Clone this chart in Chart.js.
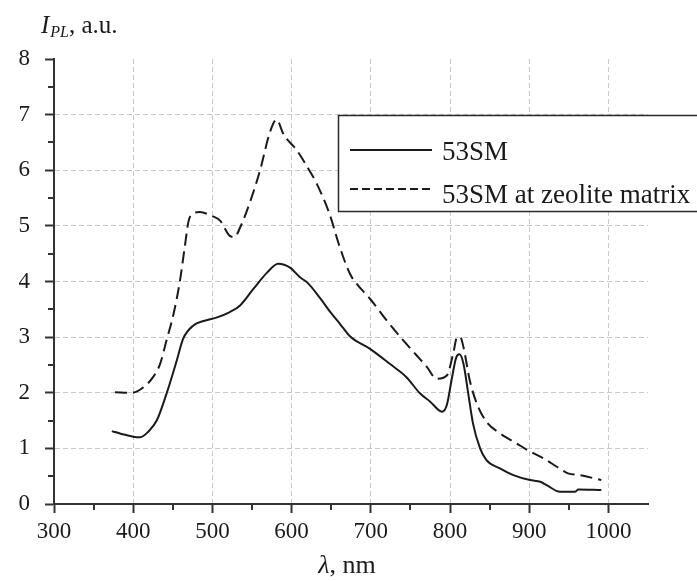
<!DOCTYPE html>
<html><head><meta charset="utf-8">
<style>html,body{margin:0;padding:0;background:#fff;overflow:hidden}
#wrap{position:relative;width:697px;height:581px}</style>
<script src="https://cdn.jsdelivr.net/npm/chart.js@4.4.1/dist/chart.umd.min.js"></script>
</head><body><div id="wrap"><canvas id="c" width="697" height="581"></canvas></div>
<script>
const seriesNames = ['53SM', '53SM at zeolite matrix'];
const xTickValues = [300, 400, 500, 600, 700, 800, 900, 1000];
const xMinorTicks = [350, 450, 550, 650, 750, 850, 950];
const yTickValues = [0, 1, 2, 3, 4, 5, 6, 7, 8];
const yMinorTicks = [0.5, 1.5, 2.5, 3.5, 4.5, 5.5, 6.5, 7.5];

const solidWavelength = [373, 385, 400, 409, 419, 430, 442, 455, 463, 476, 489, 505, 522, 535, 552, 569, 583, 598, 611, 620, 636, 650, 661, 674, 699, 724, 745, 762, 775, 790, 796, 802, 808, 812, 817, 823, 829, 838, 846, 863, 880, 901, 914, 922, 939, 958, 962, 991];
const solidIntensity = [1.31, 1.26, 1.21, 1.20, 1.30, 1.51, 1.98, 2.58, 2.97, 3.21, 3.29, 3.35, 3.45, 3.57, 3.87, 4.16, 4.32, 4.25, 4.07, 3.98, 3.70, 3.43, 3.24, 3.01, 2.79, 2.52, 2.28, 1.99, 1.84, 1.66, 1.78, 2.23, 2.64, 2.69, 2.52, 1.99, 1.45, 1.00, 0.79, 0.64, 0.52, 0.43, 0.40, 0.34, 0.22, 0.22, 0.26, 0.25];

const zeoliteWavelength = [377, 398, 413, 425, 434, 442, 451, 459, 465, 470, 476, 484, 499, 510, 522, 528, 535, 548, 560, 573, 581, 590, 606, 619, 632, 648, 661, 674, 682, 699, 720, 741, 758, 771, 783, 796, 804, 809, 813, 817, 825, 834, 846, 863, 884, 899, 918, 935, 949, 964, 991];
const zeoliteIntensity = [2.01, 2.00, 2.10, 2.28, 2.52, 2.94, 3.42, 4.01, 4.61, 5.09, 5.22, 5.25, 5.18, 5.09, 4.82, 4.80, 4.97, 5.45, 5.99, 6.70, 6.91, 6.64, 6.37, 6.08, 5.75, 5.21, 4.61, 4.13, 3.96, 3.69, 3.30, 2.94, 2.67, 2.46, 2.25, 2.31, 2.70, 3.00, 3.00, 2.82, 2.22, 1.80, 1.48, 1.27, 1.09, 0.96, 0.82, 0.67, 0.55, 0.52, 0.43];

const toPoints = (xs, ys) => xs.map((v, i) => ({x: v, y: ys[i]}));
const SERIF = '"Liberation Serif", "DejaVu Serif", serif';
const INK = '#1a1a1a';
const AXIS = '#333333';
const GRID = '#c8c8c8';

const decor = {
  id: 'decor',
  afterDraw(chart) {
    const {ctx, scales: {x, y}} = chart;
    ctx.save();
    // minor ticks
    ctx.strokeStyle = AXIS; ctx.lineWidth = 2; ctx.setLineDash([]);
    ctx.beginPath();
    for (const v of xMinorTicks) {
      const px = Math.round(x.getPixelForValue(v));
      ctx.moveTo(px, y.bottom); ctx.lineTo(px, y.bottom + 6);
    }
    for (const v of yMinorTicks) {
      const py = Math.round(y.getPixelForValue(v));
      ctx.moveTo(x.left, py); ctx.lineTo(x.left - 6, py);
    }
    ctx.stroke();

    // y-axis title: I_PL, a.u.
    ctx.fillStyle = INK;
    ctx.textBaseline = 'alphabetic'; ctx.textAlign = 'left';
    let tx = 41;
    ctx.font = 'italic 25px ' + SERIF;
    ctx.fillText('I', tx, 33); tx += ctx.measureText('I').width + 1;
    ctx.font = 'italic 16px ' + SERIF;
    ctx.fillText('PL', tx, 37); tx += ctx.measureText('PL').width;
    ctx.font = '25px ' + SERIF;
    ctx.fillText(', a.u.', tx, 33);

    // x-axis title: λ, nm
    ctx.font = 'italic 26px ' + SERIF;
    const w1 = ctx.measureText('\u03BB').width;
    ctx.font = '26px ' + SERIF;
    const w2 = ctx.measureText(', nm').width;
    const cx = 347;
    const sx = cx - (w1 + w2) / 2;
    ctx.font = 'italic 26px ' + SERIF;
    ctx.fillText('\u03BB', sx, 573);
    ctx.font = '26px ' + SERIF;
    ctx.fillText(', nm', sx + w1, 573);

    // legend
    const ds = chart.data.datasets;
    ctx.fillStyle = '#ffffff';
    ctx.fillRect(338.5, 115.5, 400, 96);
    ctx.strokeStyle = '#2a2a2a'; ctx.lineWidth = 1.5;
    ctx.strokeRect(338.5, 115.5, 400, 96);
    const rows = [150, 189];
    const textBase = [160, 203];
    ds.forEach((d, i) => {
      ctx.strokeStyle = INK; ctx.lineWidth = 2;
      ctx.setLineDash(i === 0 ? [] : [8, 4]);
      ctx.beginPath(); ctx.moveTo(350, rows[i]); ctx.lineTo(432, rows[i]); ctx.stroke();
      ctx.setLineDash([]);
      ctx.fillStyle = INK;
      ctx.font = '27px ' + SERIF;
      ctx.fillText(d.label, 442, textBase[i]);
    });
    ctx.restore();
  }
};

new Chart(document.getElementById('c'), {
  type: 'line',
  data: {
    datasets: [
      {label: seriesNames[0], data: toPoints(solidWavelength, solidIntensity), borderColor: INK, borderWidth: 2, pointRadius: 0, tension: 0.35, cubicInterpolationMode: 'monotone', fill: false},
      {label: seriesNames[1], data: toPoints(zeoliteWavelength, zeoliteIntensity), borderColor: INK, borderWidth: 2, borderDash: [12, 6], pointRadius: 0, tension: 0.35, cubicInterpolationMode: 'monotone', fill: false}
    ]
  },
  options: {
    responsive: false, animation: false, devicePixelRatio: 1,
    layout: {padding: {top: 59, right: 49, left: 0, bottom: 0}},
    plugins: {legend: {display: false}, tooltip: {enabled: false}, title: {display: false}},
    scales: {
      x: {
        type: 'linear', min: 300, max: 1050,
        afterBuildTicks: s => { s.ticks = xTickValues.map(v => ({value: v})); },
        afterFit: s => { s.height = 77; },
        ticks: {font: {family: SERIF, size: 23}, color: INK, padding: 5, maxRotation: 0, autoSkip: false, callback: v => String(v)},
        grid: {
          color: c => (c.tick && c.tick.value === 300) ? 'rgba(0,0,0,0)' : GRID,
          lineWidth: 1, tickLength: 9, tickColor: AXIS, tickWidth: 2, tickBorderDash: []
        },
        border: {display: true, color: AXIS, width: 2, dash: [5, 3]}
      },
      y: {
        type: 'linear', min: 0, max: 8,
        afterBuildTicks: s => { s.ticks = yTickValues.map(v => ({value: v})); },
        afterFit: s => { s.width = 54; },
        ticks: {font: {family: SERIF, size: 23}, color: INK, padding: 15, callback: v => String(v)},
        grid: {
          color: c => (c.tick && (c.tick.value === 0 || c.tick.value === 8)) ? 'rgba(0,0,0,0)' : GRID,
          lineWidth: 1, tickLength: 9, tickColor: AXIS, tickWidth: 2, tickBorderDash: []
        },
        border: {display: true, color: AXIS, width: 2, dash: [5, 3]}
      }
    }
  },
  plugins: [decor]
});
</script></body></html>
